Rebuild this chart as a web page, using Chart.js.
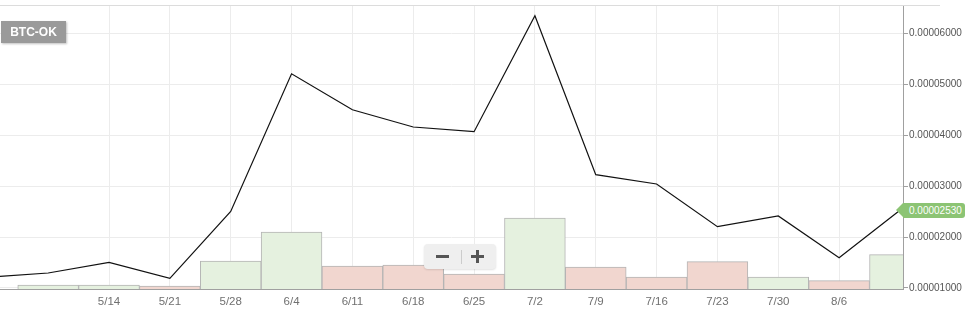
<!DOCTYPE html>
<html>
<head>
<meta charset="utf-8">
<script src="https://cdn.jsdelivr.net/npm/chart.js@4.4.1/dist/chart.umd.min.js"></script>
<style>
html,body{margin:0;padding:0;background:#fff;}
#wrap{position:relative;width:976px;height:323px;overflow:hidden;}
#c{position:absolute;left:0;top:0;}
#topline{position:absolute;left:0;top:5px;width:940px;height:1px;background:#dcdcdc;}
#lbl{position:absolute;left:1px;top:21px;width:65px;height:22px;background:#9a9a9a;color:#fff;
  font:bold 12px "Liberation Sans",Arial,sans-serif;line-height:22px;text-align:center;
  box-shadow:1px 1px 2px rgba(0,0,0,.25);}
#zoom{position:absolute;left:424px;top:244px;width:72px;height:25px;background:#efefef;border-radius:4px;
  box-shadow:0 1px 2px rgba(0,0,0,.12);}
#zoom .m{position:absolute;left:12px;top:11px;width:13px;height:3px;background:#555;}
#zoom .sep{position:absolute;left:37px;top:6px;width:1px;height:14px;background:#ccc;}
#zoom .p1{position:absolute;left:47px;top:11px;width:13px;height:3px;background:#555;}
#zoom .p2{position:absolute;left:52px;top:6px;width:3px;height:13px;background:#555;}
#tag{position:absolute;left:903px;top:202px;width:62px;height:15px;background:#8cc474;color:#fff;
  font:10px "Liberation Sans",Arial,sans-serif;line-height:15px;padding-left:6px;box-sizing:border-box;
  border-radius:0 3px 3px 0;}
#tag:before{content:"";position:absolute;left:-7px;top:0;width:0;height:0;
  border-top:7.5px solid transparent;border-bottom:7.5px solid transparent;border-right:7px solid #8cc474;}
</style>
</head>
<body>
<div id="wrap">
  <canvas id="c" width="976" height="323"></canvas>
  <div id="topline"></div>
  <div id="lbl">BTC-OK</div>
  <div id="zoom"><span class="m"></span><span class="sep"></span><span class="p1"></span><span class="p2"></span></div>
  <div id="tag"></div>
</div>
<script>
// ---- data ----
const dates  = ['4/30','5/7','5/14','5/21','5/28','6/4','6/11','6/18','6/25','7/2','7/9','7/16','7/23','7/30','8/6','8/13'];
const price  = [0.00001210,0.00001295,0.00001503,0.00001189,0.00002506,0.00005213,0.00004505,0.00004166,0.00004073,0.00006354,0.00003228,0.00003045,0.00002205,0.00002416,0.00001596,0.00002530];
const volume = [null,40,40,30,280,570,230,240,150,710,220,120,273,120,83,343];
const yTicks = [0.00001,0.00002,0.00003,0.00004,0.00005,0.00006];
const xTickLabels = ['5/14','5/21','5/28','6/4','6/11','6/18','6/25','7/2','7/9','7/16','7/23','7/30','8/6'];
const pairName = 'BTC-OK';

const GREEN = 'rgb(229,241,223)';
const RED = 'rgb(241,214,207)';
const xTickIdx = xTickLabels.map(l => dates.indexOf(l));
const barColors = volume.map((v,i) => (i>0 && price[i] < price[i-1]) ? RED : GREEN);
const lastPrice = price[price.length-1];
document.getElementById('lbl').textContent = pairName;
document.getElementById('tag').textContent = lastPrice.toFixed(8);

const FONT = '"Liberation Sans", Arial, sans-serif';

const tagPlugin = {
  id:'tagpos',
  afterDraw(chart){
    const y = chart.scales.y.getPixelForValue(lastPrice);
    document.getElementById('tag').style.top = (y - 7.5) + 'px';
  }
};

new Chart(document.getElementById('c'), {
  data: {
    datasets: [
      {
        type:'line',
        data: price.map((p,i)=>({x:i,y:p})),
        borderColor:'#111',
        borderWidth:1.2,
        pointRadius:0,
        tension:0,
        yAxisID:'y',
        order:0
      },
      {
        type:'bar',
        data: volume.map((v,i)=>({x:i,y:v})),
        backgroundColor: barColors,
        borderColor:'#b4b4b4',
        borderWidth:1,
        barPercentage:1,
        categoryPercentage:1,
        yAxisID:'y2',
        order:1
      }
    ]
  },
  options: {
    responsive:false,
    devicePixelRatio:1,
    animation:false,
    layout:{padding:{top:5,left:0,right:0,bottom:0}},
    plugins:{legend:{display:false},tooltip:{enabled:false}},
    scales:{
      x:{
        type:'linear',
        bounds:'data',
        offset:false,
        min:0.208,
        max:15.05,
        afterBuildTicks:s=>{ s.ticks = xTickIdx.map(v=>({value:v})); },
        afterFit:s=>{ s.height = 34; s.paddingLeft = 0; s.paddingRight = 0; },
        ticks:{
          callback:v=>dates[v],
          color:'#707070',
          font:{size:11.5,family:FONT},
          maxRotation:0,
          autoSkip:false,
          padding:6
        },
        grid:{color:'#ececec',drawTicks:false,offset:false},
        border:{color:'#a0a0a0'}
      },
      y:{
        type:'linear',
        position:'right',
        bounds:'data',
        min:0.0000098,
        max:0.00006565,
        afterBuildTicks:s=>{ s.ticks = yTicks.map(v=>({value:v})); },
        afterFit:s=>{ s.width = 73; s.paddingTop = 0; s.paddingBottom = 0; },
        ticks:{
          callback:v=>Number(v).toFixed(8),
          color:'#555',
          font:{size:10,family:FONT},
          padding:1
        },
        grid:{color:'#ececec',drawTicks:true,tickLength:5,tickColor:'#a0a0a0'},
        border:{color:'#a0a0a0'}
      },
      y2:{
        type:'linear',
        display:false,
        min:0,
        max:2840
      }
    }
  },
  plugins:[tagPlugin]
});
</script>
</body>
</html>
